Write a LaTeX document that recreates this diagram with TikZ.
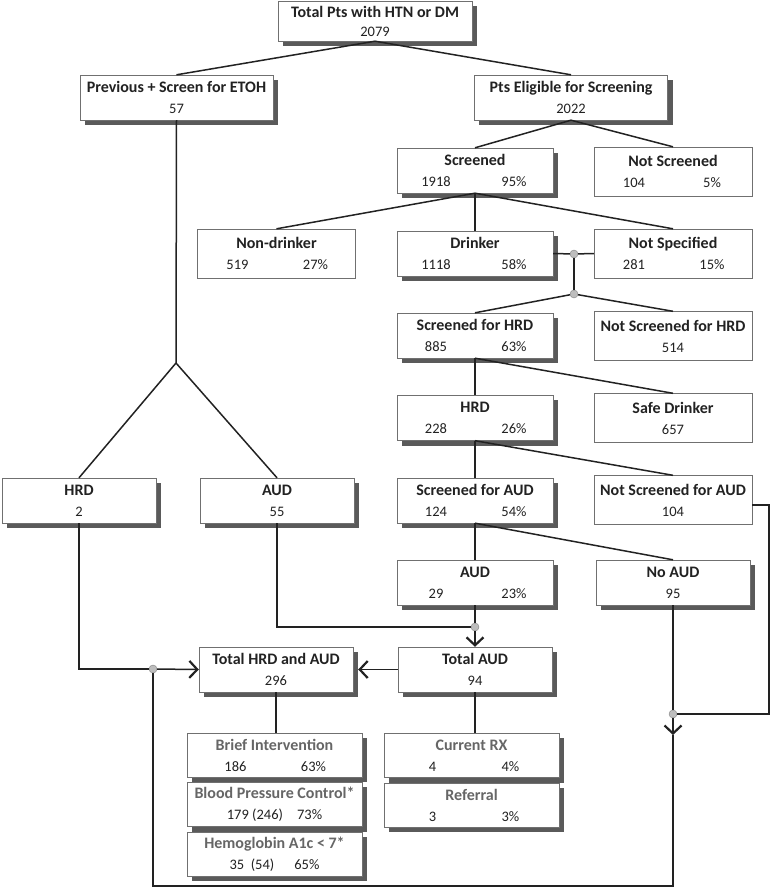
\documentclass[tikz,border=0pt]{standalone}
\usepackage{fontspec}
\setmainfont{Carlito}
\usetikzlibrary{arrows.meta,backgrounds}

\definecolor{inkgray}{HTML}{222222}
\definecolor{framegray}{HTML}{707070}
\definecolor{shadegray}{HTML}{5A5A5A}
\definecolor{titlegray}{HTML}{666666}
\definecolor{dotgray}{HTML}{BDBDBD}

\newcommand{\nums}[2]{\makebox[78pt]{#1}\makebox[78pt]{#2}}
\newcommand{\ttl}[1]{{\fontsize{16}{19}\selectfont\bfseries #1}}
\newcommand{\gtitle}[1]{\textcolor{titlegray}{\ttl{#1}}}

\tikzset{
  box/.style={draw=framegray, fill=white, text=inkgray, minimum width=154pt,
    minimum height=45pt, inner sep=0pt, align=center,
    font=\fontsize{14.5}{21}\selectfont},
  pbox/.style={box, minimum width=158pt, minimum height=49pt},
  rbox/.style={box, minimum width=175pt, minimum height=44pt},
  dot/.style={circle, draw=gray, fill=dotgray, minimum size=8pt, inner sep=0pt},
  link/.style={draw=inkgray, line width=1.5pt},
  arr/.style={link, -{Straight Barb[length=8pt,width=17pt,line width=2.2pt]}}
}

\begin{document}
\begin{tikzpicture}[x=1pt,y=-1pt]
\useasboundingbox (0,0) rectangle (772,889);

% screening tree
\node[box, minimum width=194pt, minimum height=40pt] (total) at (375,21) {\ttl{Total Pts with HTN or DM}\\[-2pt]2079};
\node[box, minimum width=193pt] (prev) at (176.5,97.5) {\ttl{Previous + Screen for ETOH}\\57};
\node[box, minimum width=193pt] (elig) at (571,97.5) {\ttl{Pts Eligible for Screening}\\2022};
\node[box] (scr) at (475,170.5) {\ttl{Screened}\\\nums{1918}{95\%}};
\node[pbox] (notscr) at (673,171.5) {\ttl{Not Screened}\\\nums{104}{5\%}};
\node[pbox] (nondr) at (276.5,253.5) {\ttl{Non-drinker}\\\nums{519}{27\%}};
\node[box] (drink) at (475,253.5) {\ttl{Drinker}\\\nums{1118}{58\%}};
\node[pbox] (notspec) at (673,253.5) {\ttl{Not Specified}\\\nums{281}{15\%}};
\node[dot] (j1) at (574,254) {};
\node[dot] (j2) at (574,294) {};
\node[box] (scrhrd) at (475,335.5) {\ttl{Screened for HRD}\\\nums{885}{63\%}};
\node[pbox] (notscrhrd) at (673,336) {\ttl{Not Screened for HRD}\\514};
\node[box] (hrd) at (475,418) {\ttl{HRD}\\\nums{228}{26\%}};
\node[pbox] (safe) at (673,418) {\ttl{Safe Drinker}\\657};
\node[box] (scraud) at (475,500.5) {\ttl{Screened for AUD}\\\nums{124}{54\%}};
\node[pbox] (notscraud) at (673,500) {\ttl{Not Screened for AUD}\\104};
\node[box] (aud) at (475,582.5) {\ttl{AUD}\\\nums{29}{23\%}};
\node[box] (noaud) at (673,582.5) {\ttl{No AUD}\\95};
\node[box] (hrdl) at (79,500.5) {\ttl{HRD}\\2};
\node[box] (audl) at (277,500.5) {\ttl{AUD}\\55};
\coordinate (split) at (176,363);

% totals
\node[box] (totaud) at (475,669.5) {\ttl{Total AUD}\\94};
\node[box] (tothrd) at (276,669.5) {\ttl{Total HRD and AUD}\\296};
\node[dot] (j3) at (475,627) {};
\node[dot] (j4) at (673,714) {};
\node[dot] (j5) at (153,669) {};
\coordinate (a4) at (673,735);
\coordinate (low) at (153,886);

% outcomes
\node[rbox] (brief) at (274.5,755) {\gtitle{Brief Intervention}\\\nums{186}{63\%}};
\node[rbox] (bp) at (274.5,804.5) {\gtitle{Blood Pressure Control*}\\179 (246)\hspace{14pt}73\%};
\node[rbox] (hba) at (274.5,854) {\gtitle{Hemoglobin A1c < 7*}\\35~~(54)\hspace{20pt}65\%};
\node[rbox] (currx) at (471.5,755.5) {\gtitle{Current RX}\\\nums{4}{4\%}};
\node[rbox] (refer) at (471.5,805) {\gtitle{Referral}\\\nums{3}{3\%}};

% shadows
\begin{scope}[on background layer]
\foreach \n in {total,prev,elig,scr,drink,scrhrd,hrd,scraud,aud,noaud,hrdl,audl,totaud,tothrd,brief,bp,hba,currx,refer}
  \fill[shadegray] ([shift={(5pt,-5pt)}]\n.south west) rectangle ([shift={(5pt,-5pt)}]\n.north east);
\end{scope}

\draw[link] (total.south) -- (prev.north);
\draw[link] (total.south) -- (elig.north);
\draw[link] (elig.south) -- (scr.north);
\draw[link] (elig.south) -- (notscr.north);
\draw[link] (scr.south) -- (nondr.north);
\draw[link] (scr.south) -- (drink.north);
\draw[link] (scr.south) -- (notspec.north);
\draw[link] (drink.east) -- (j1);
\draw[link] (j1) -- (notspec.west);
\draw[link] (j1) -- (j2);
\draw[link] (j2) -- (scrhrd.north);
\draw[link] (j2) -- (notscrhrd.north);
\draw[link] (scrhrd.south) -- (hrd.north);
\draw[link] (scrhrd.south) -- (safe.north);
\draw[link] (hrd.south) -- (scraud.north);
\draw[link] (hrd.south) -- (notscraud.north);
\draw[link] (scraud.south) -- (aud.north);
\draw[link] (scraud.south) -- (noaud.north);
\draw[link] (prev.south) -- (split);
\draw[link] (split) -- (hrdl.north);
\draw[link] (split) -- (audl.north);

\draw[link] (aud.south) -- (j3);
\draw[link] (audl.south) |- (j3);
\draw[arr] (j3) -- (totaud.north);
\draw[arr] (totaud.west) -- ([xshift=5pt]tothrd.east);
\draw[link] (hrdl.south) |- (j5);
\draw[arr] (j5) -- (tothrd.west);
\draw[link] (noaud.south) -- (j4);
\draw[link] ([yshift=-5pt]notscraud.east) -- ++(17,0) |- (j4);
\draw[arr] (j4) -- (a4);
\draw[link] (a4) |- (low) -- (j5);
\draw[link] (tothrd.south) -- (tothrd.south |- brief.north);
\draw[link] (totaud.south) -- (totaud.south |- currx.north);
\end{tikzpicture}
\end{document}
